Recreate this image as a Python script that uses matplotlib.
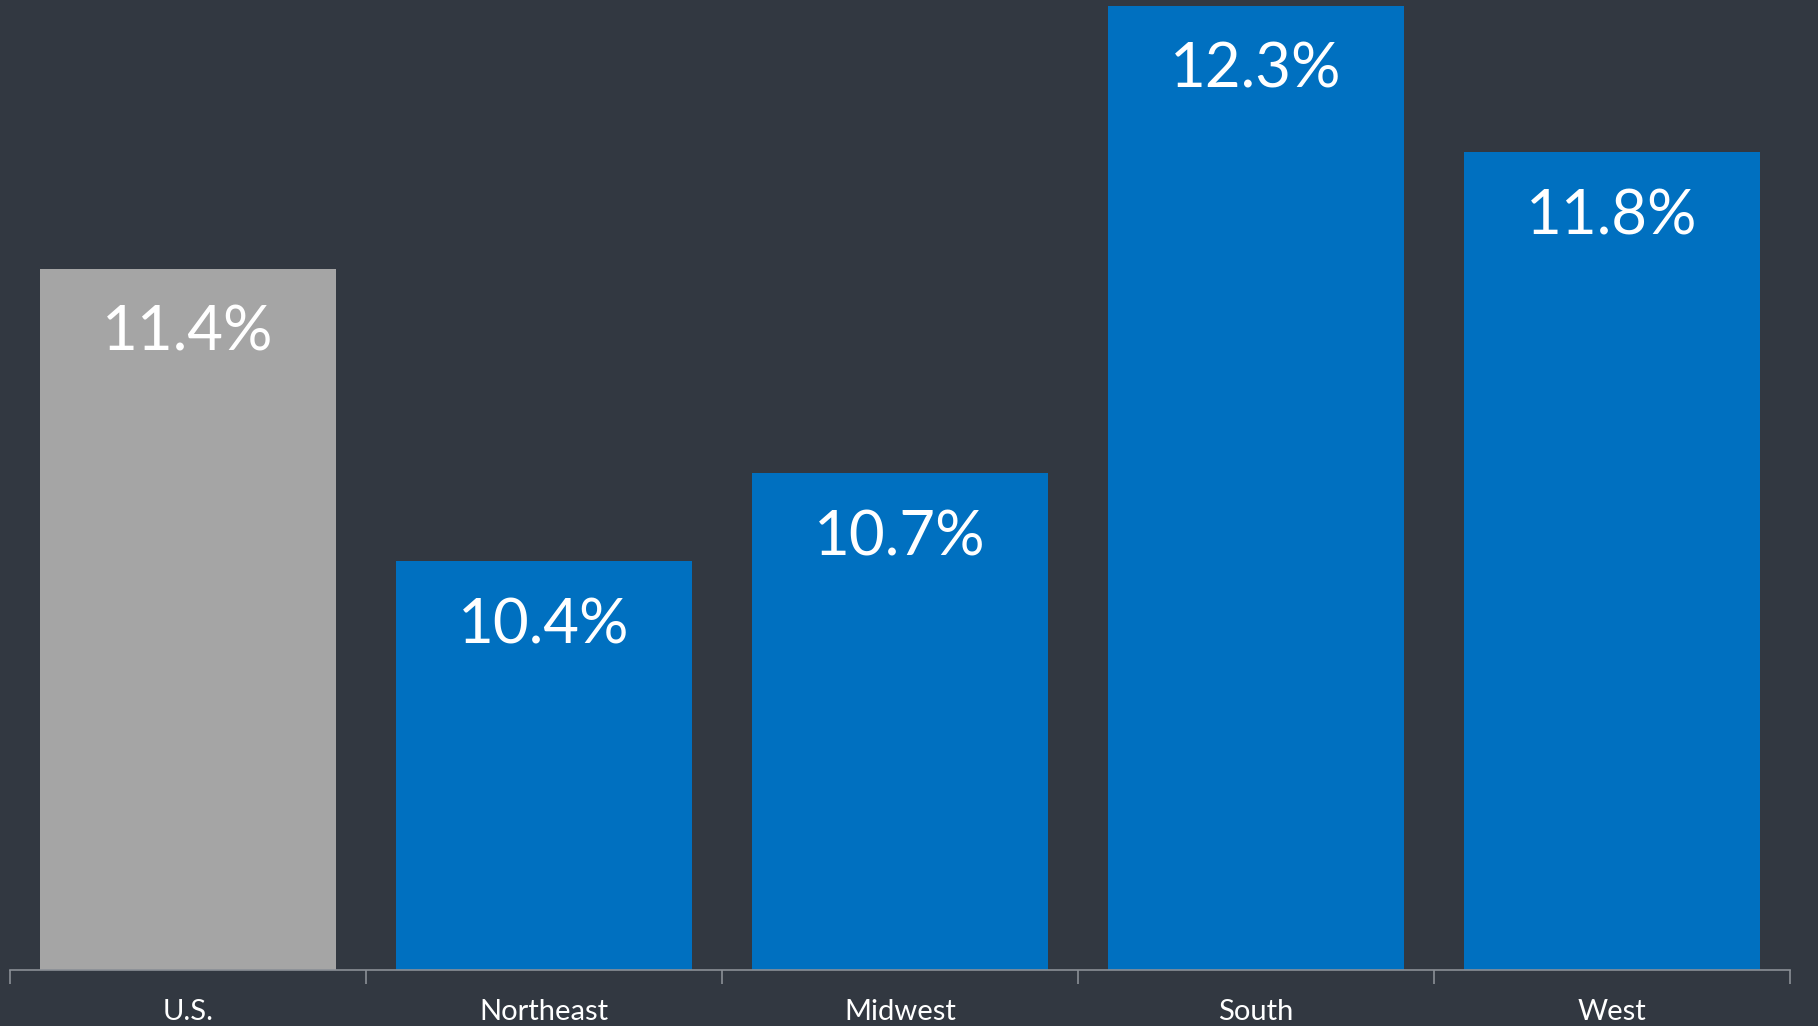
import matplotlib
matplotlib.use("Agg")
import matplotlib.pyplot as plt

regions = ["U.S.", "Northeast", "Midwest", "South", "West"]
rates = [11.4, 10.4, 10.7, 12.3, 11.8]
bar_colors = ["#A5A5A5", "#0070C0", "#0070C0", "#0070C0", "#0070C0"]
value_labels = ["11.4%", "10.4%", "10.7%", "12.3%", "11.8%"]

bg = "#323841"
plt.rcParams["font.family"] = ["Lato", "DejaVu Sans"]

fig = plt.figure(figsize=(18.18, 10.26), dpi=100, facecolor=bg)
ax = fig.add_axes([0.0055, 0.0546, 0.9791, 0.9454])
ax.set_facecolor(bg)

x = list(range(len(regions)))
ax.bar(x, [r - 9.0 for r in rates], bottom=9.0, width=0.834, color=bar_colors, zorder=2)

ax.set_xlim(-0.5, len(regions) - 0.5)
ax.set_ylim(9.0, 12.32)

for xi, r, lab in zip(x, rates, value_labels):
    ax.annotate(lab, (xi, r), xytext=(0, -26), textcoords="offset points",
                ha="center", va="top", color="white", fontsize=44.5)

for s in ["top", "right", "left"]:
    ax.spines[s].set_visible(False)
ax.spines["bottom"].set_color("#8A8F96")
ax.spines["bottom"].set_linewidth(1.2)
ax.set_yticks([])

ax.set_xticks([i - 0.5 for i in range(len(regions) + 1)], minor=False)
ax.set_xticklabels([])
ax.tick_params(axis="x", which="major", length=10, width=1.2, color="#8A8F96")
ax.set_xticks(x, minor=True)
ax.set_xticklabels(regions, minor=True)
ax.tick_params(axis="x", which="minor", length=0, pad=21, labelsize=21, labelcolor="white")

fig.savefig("out.png", dpi=100, facecolor=bg)
